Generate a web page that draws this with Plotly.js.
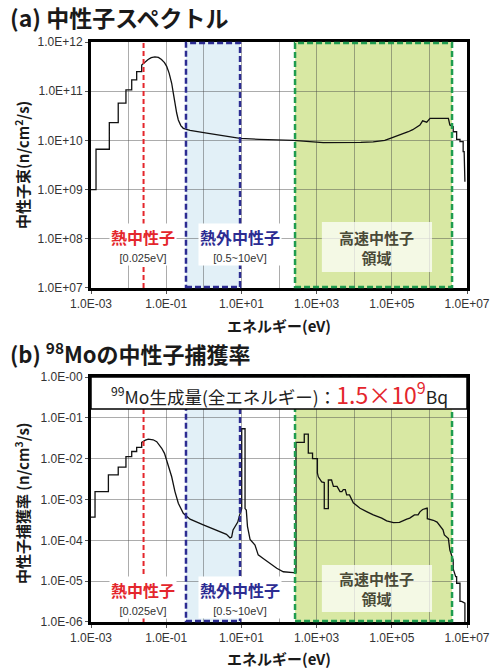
<!DOCTYPE html>
<html>
<head>
<meta charset="utf-8">
<script src="https://cdn.plot.ly/plotly-3.0.1.min.js"></script>
<style>
  html, body { margin: 0; padding: 0; background: #ffffff; }
  #chart { width: 497px; height: 668px; }
</style>
</head>
<body>
<div id="chart"></div>
<script>
// ---------- data ----------
// (a) neutron spectrum  [eV] -> [n/cm2/s]
const energyA = [1.0e-3, 1.36e-3, 1.36e-3, 3.07e-3, 3.07e-3, 5.3e-3, 5.3e-3, 8.5e-3, 8.5e-3, 0.0121, 0.0121, 0.0164, 0.0164, 0.0223, 0.0223,
  0.027, 0.033, 0.04, 0.05, 0.062, 0.075, 0.09, 0.103, 0.12, 0.14, 0.155, 0.171, 0.19, 0.21, 0.245, 0.285, 0.43, 1.2, 5.0, 9.2, 30, 240, 1500, 5000,
  1.5e4, 3.2e4, 4.9e4, 6.5e4, 9.1e4, 1.2e5, 1.65e5, 2.2e5, 2.75e5, 3.6e5, 4.6e5, 5.6e5, 6.6e5, 7.6e5, 8.5e5, 1.04e6, 1.56e6, 2.4e6, 3.2e6,
  3.5e6, 4.3e6, 4.3e6, 5.3e6, 5.3e6, 6.5e6, 6.5e6, 7.9e6, 7.9e6, 8.4e6, 8.8e6];
const fluxA = [1.0e9, 1.0e9, 6.6e9, 6.6e9, 2.3e10, 2.3e10, 5.7e10, 5.7e10, 1.06e11, 1.06e11, 1.7e11, 1.7e11, 2.5e11, 2.5e11, 3.4e11,
  3.9e11, 4.4e11, 4.8e11, 5.0e11, 4.85e11, 4.4e11, 3.8e11, 3.2e11, 2.3e11, 1.45e11, 9.0e10, 5.6e10, 3.6e10, 2.6e10, 2.0e10, 1.76e10, 1.6e10, 1.4e10, 1.2e10, 1.1e10, 1.05e10, 1.0e10, 9.0e9, 8.9e9,
  9.1e9, 9.3e9, 9.6e9, 1.0e10, 1.1e10, 1.18e10, 1.3e10, 1.38e10, 1.5e10, 1.65e10, 1.9e10, 2.05e10, 2.5e10, 2.45e10, 2.35e10, 2.8e10, 2.8e10, 2.85e10, 2.8e10,
  2.06e10, 1.9e10, 1.5e10, 1.5e10, 1.05e10, 1.05e10, 9.4e9, 9.4e9, 5.9e9, 5.9e9, 1.45e9];

// (b) 98Mo neutron capture rate  [eV] -> [n/cm3/s]
const energyB = [1.0e-3, 1.28e-3, 1.28e-3, 2.9e-3, 2.9e-3, 5.3e-3, 5.3e-3, 8.5e-3, 8.5e-3, 0.0121, 0.0121, 0.0164, 0.0164, 0.0223, 0.0223,
  0.028, 0.0334, 0.045, 0.056, 0.076, 0.09, 0.103, 0.12, 0.14, 0.171, 0.21, 0.285, 0.43, 0.97, 2.2, 4.0, 5.0, 5.5, 6.0, 7.0, 8.0, 9.0, 9.8,
  10.2, 10.2, 12.5, 12.5, 13.5, 14.5, 17, 23, 28, 38, 58, 87, 130, 218, 283, 283, 470, 470, 601, 601, 780, 780, 1050, 1050, 1110, 1365, 1600, 1600,
  2050, 2050, 2500, 2800, 3500, 4190, 4700, 5130, 5800, 6300, 7500, 9460, 1.2e4, 1.43e4, 2.2e4, 3.22e4, 5.4e4, 7.3e4, 1.1e5, 1.6e5, 2.5e5, 3.0e5,
  4.0e5, 5.0e5, 5.6e5, 6.6e5, 8.5e5, 8.8e5, 8.8e5, 1.27e6, 1.6e6, 1.9e6, 2.3e6, 2.5e6, 2.9e6, 3.2e6, 3.5e6, 4.3e6, 4.3e6, 5.0e6, 5.3e6, 5.3e6,
  6.5e6, 6.5e6, 7.2e6, 8.8e6, 8.8e6];
const rateB = [3.7e-4, 3.7e-4, 1.56e-3, 1.56e-3, 4.0e-3, 4.0e-3, 6.2e-3, 6.2e-3, 1.12e-2, 1.12e-2, 1.5e-2, 1.5e-2, 1.9e-2, 1.9e-2, 2.5e-2,
  2.85e-2, 3.0e-2, 2.9e-2, 2.6e-2, 1.8e-2, 1.35e-2, 9.3e-3, 5.8e-3, 3.6e-3, 1.56e-3, 8.1e-4, 4.6e-4, 3.3e-4, 2.4e-4, 1.8e-4, 1.4e-4, 1.15e-4, 1.2e-4, 1.8e-4, 2.4e-4, 2.8e-4, 4.2e-4, 6.0e-4,
  6.0e-4, 5.4e-2, 5.4e-2, 6.0e-4, 5.5e-4, 2.2e-4, 1.05e-4, 7.7e-5, 4.4e-5, 3.6e-5, 2.7e-5, 2.07e-5, 1.7e-5, 1.6e-5, 1.6e-5, 2.5e-2, 2.5e-2, 4.0e-2, 4.0e-2, 1.36e-2, 1.36e-2, 1.0e-2, 1.0e-2, 4.5e-3, 3.6e-3, 2.7e-3, 2.6e-3, 6.0e-4,
  6.0e-4, 3.0e-3, 3.0e-3, 2.1e-3, 2.1e-3, 1.56e-3, 1.56e-3, 1.75e-3, 1.75e-3, 1.3e-3, 1.3e-3, 8.3e-4, 7.0e-4, 6.1e-4, 5.0e-4, 4.2e-4, 3.5e-4, 3.0e-4, 2.7e-4, 2.75e-4, 3.3e-4, 3.5e-4,
  4.2e-4, 4.2e-4, 5.0e-4, 5.7e-4, 6.1e-4, 6.1e-4, 3.4e-4, 3.1e-4, 2.8e-4, 2.2e-4, 1.8e-4, 1.36e-4, 1.23e-4, 1.1e-4, 5.8e-5, 3.3e-5, 2.0e-5, 1.29e-5, 1.29e-5, 8.9e-6,
  8.9e-6, 3.2e-6, 3.2e-6, 2.9e-6, 1.0e-6];

// ticks
const xTickVals = [1e-3, 1e-1, 1e1, 1e3, 1e5, 1e7];
const xTickText = ['1.0E-03', '1.0E-01', '1.0E+01', '1.0E+03', '1.0E+05', '1.0E+07'];
const xMinorGridVals = [1e-2, 1e0, 1e2, 1e4, 1e6];
const yTickValsA = [1e7, 1e8, 1e9, 1e10, 1e11, 1e12];
const yTickTextA = ['1.0E+07', '1.0E+08', '1.0E+09', '1.0E+10', '1.0E+11', '1.0E+12'];
const yTickValsB = [1e-6, 1e-5, 1e-4, 1e-3, 1e-2, 1e-1, 1e0];
const yTickTextB = ['1.0E-06', '1.0E-05', '1.0E-04', '1.0E-03', '1.0E-02', '1.0E-01', '1.0E-00'];

// energy regions [eV]
const thermalEnergy = 0.025;
const epithermalRange = [0.336, 9.2];
const fastRange = [267, 4.0e6];

// ---------- styling ----------
const CJK = '"Noto Sans CJK JP", "Noto Sans", sans-serif';
const LAT = '"Liberation Sans", Arial, sans-serif';
const RED = '#e4262c';
const NAVY = '#2c2c92';
const GREEN = '#1f9c4f';
const GRID = 'rgba(70,70,70,0.45)';

function axisX(anchor) {
  return {
    type: 'log', range: [-3, 7], anchor: anchor, domain: [0, 1],
    tickmode: 'array', tickvals: xTickVals, ticktext: xTickText,
    showgrid: true, gridcolor: GRID, gridwidth: 1,
    minor: {tickmode: 'array', tickvals: xMinorGridVals, showgrid: true, gridcolor: GRID, gridwidth: 1, ticks: ''},
    showline: true, linecolor: '#000', linewidth: 3, mirror: true,
    ticks: 'outside', ticklen: 3, tickcolor: '#555',
    tickfont: {family: LAT, size: 12, color: '#333'}, zeroline: false
  };
}
function axisY(anchor, range, dom, vals, text) {
  return {
    type: 'log', range: range, anchor: anchor, domain: dom,
    tickmode: 'array', tickvals: vals, ticktext: text,
    showgrid: true, gridcolor: GRID, gridwidth: 1,
    showline: true, linecolor: '#000', linewidth: 3, mirror: true,
    ticks: 'outside', ticklen: 3, tickcolor: '#555',
    tickfont: {family: LAT, size: 12, color: '#333'}, zeroline: false
  };
}

const traces = [
  {x: energyA, y: fluxA, xaxis: 'x', yaxis: 'y', type: 'scatter', mode: 'lines',
   line: {color: '#111', width: 1.3}, hoverinfo: 'skip'},
  {x: energyB, y: rateB, xaxis: 'x2', yaxis: 'y2', type: 'scatter', mode: 'lines',
   line: {color: '#111', width: 1.3}, hoverinfo: 'skip'}
];

function regionShapes(xr, yr) {
  const yd = yr + ' domain';
  return [
    {type: 'rect', xref: xr, yref: yd, x0: epithermalRange[0], x1: epithermalRange[1], y0: 0, y1: 1,
     fillcolor: '#e2f0f7', line: {width: 0}, layer: 'below'},
    {type: 'rect', xref: xr, yref: yd, x0: fastRange[0], x1: fastRange[1], y0: 0, y1: 1,
     fillcolor: '#d8e8a3', line: {width: 0}, layer: 'below'},
    {type: 'line', xref: xr, yref: yd, x0: thermalEnergy, x1: thermalEnergy, y0: 0, y1: 1,
     line: {color: RED, width: 2, dash: '5px,3px'}, layer: 'above'},
    {type: 'rect', xref: xr, yref: yd, x0: epithermalRange[0], x1: epithermalRange[1], y0: 0.004, y1: 0.996,
     line: {color: NAVY, width: 2.5, dash: '6px,3px'}, layer: 'above'},
    {type: 'rect', xref: xr, yref: yd, x0: fastRange[0], x1: fastRange[1], y0: 0.004, y1: 0.996,
     line: {color: GREEN, width: 2.5, dash: '6px,3px'}, layer: 'above'}
  ];
}

const shapes = [].concat(
  regionShapes('x', 'y'),
  regionShapes('x2', 'y2'),
  [
    // white glow behind fast-neutron labels
    {type: 'rect', xref: 'x domain', yref: 'y domain', x0: 0.614, x1: 0.907, y0: 0.065, y1: 0.268,
     fillcolor: 'rgba(255,255,255,0.72)', line: {width: 0}, layer: 'above'},
    {type: 'rect', xref: 'x2 domain', yref: 'y2 domain', x0: 0.614, x1: 0.907, y0: 0.041, y1: 0.233,
     fillcolor: 'rgba(255,255,255,0.72)', line: {width: 0}, layer: 'above'},
    // info box in (b)
    {type: 'rect', xref: 'x2 domain', yref: 'y2 domain', x0: 0, x1: 1, y0: 0.869, y1: 1,
     fillcolor: '#ffffff', line: {color: '#000', width: 1.5}, layer: 'above'}
  ]
);

function regionLabels(xr, yr, yLab, yFast) {
  const xd = xr + ' domain', yd = yr + ' domain';
  const base = {xref: xd, yref: yd, showarrow: false, xanchor: 'center', yanchor: 'middle'};
  const sub = (s) => '<span style="font-size:11px;font-family:Liberation Sans, Arial, sans-serif;color:#333">' + s + '</span>';
  return [
    Object.assign({}, base, {x: 0.1396, y: yLab, bgcolor: '#ffffff', borderpad: 1,
      text: '<b><span style="font-size:16px;color:' + RED + '">熱中性子</span></b><br>' + sub('[0.025eV]'),
      font: {family: CJK, size: 14, color: RED}}),
    Object.assign({}, base, {x: 0.396, y: yLab, bgcolor: '#ffffff', borderpad: 1,
      text: '<b><span style="font-size:16px;color:' + NAVY + '">熱外中性子</span></b><br>' + sub('[0.5~10eV]'),
      font: {family: CJK, size: 14, color: NAVY}}),
    Object.assign({}, base, {x: 0.7606, y: yFast, text: '<b>高速中性子<br>領域</b>',
      font: {family: CJK, size: 15, color: '#4a4a38'}})
  ];
}

const annotations = [].concat(
  regionLabels('x', 'y', 0.175, 0.1626),
  regionLabels('x2', 'y2', 0.098, 0.1347),
  [
    // panel titles
    {xref: 'paper', yref: 'paper', x: -0.2207, y: 1.0431, xanchor: 'left', yanchor: 'middle', showarrow: false,
     text: '(a) 中性子スペクトル', font: {family: CJK, size: 23, color: '#1a1a1a', weight: 'bold'}},
    {xref: 'paper', yref: 'paper', x: -0.2207, y: 0.4638, xanchor: 'left', yanchor: 'middle', showarrow: false,
     text: '(b) <sup>98</sup>Moの中性子捕獲率', font: {family: CJK, size: 22, color: '#1a1a1a', weight: 'bold'}},
    // axis titles
    {xref: 'paper', yref: 'paper', x: 0.5, y: 0.511, xanchor: 'center', yanchor: 'middle', showarrow: false,
     text: 'エネルギー(eV)', font: {family: CJK, size: 15, color: '#1a1a1a', weight: 'bold'}},
    {xref: 'paper', yref: 'paper', x: 0.5, y: -0.0625, xanchor: 'center', yanchor: 'middle', showarrow: false,
     text: 'エネルギー(eV)', font: {family: CJK, size: 15, color: '#1a1a1a', weight: 'bold'}},
    {xref: 'paper', yref: 'paper', x: 0, xshift: -69, y: 0.788, xanchor: 'center', yanchor: 'middle', showarrow: false,
     textangle: -90, text: '中性子束(n/cm<sup>2</sup>/s)', font: {family: CJK, size: 15, color: '#1a1a1a', weight: 'bold'}},
    {xref: 'paper', yref: 'paper', x: 0, xshift: -69, y: 0.205, xanchor: 'center', yanchor: 'middle', showarrow: false,
     textangle: -90, text: '中性子捕獲率 (n/cm<sup>3</sup>/s)', font: {family: CJK, size: 15, color: '#1a1a1a', weight: 'bold'}},
    // info box text
    {xref: 'x2 domain', yref: 'y2 domain', x: 0.5, y: 0.934, xanchor: 'center', yanchor: 'middle', showarrow: false,
     text: '<sup>99</sup>Mo生成量(全エネルギー)：<span style="color:' + RED + ';font-size:23px">1.5×10<sup>9</sup></span>Bq',
     font: {family: CJK, size: 17.5, color: '#222'}}
  ]
);

const layout = {
  width: 497, height: 668,
  margin: {l: 91, r: 30, t: 42, b: 46},
  paper_bgcolor: '#ffffff', plot_bgcolor: '#ffffff',
  showlegend: false,
  xaxis: axisX('y'),
  yaxis: axisY('x', [7, 12], [0.5759, 1], yTickValsA, yTickTextA),
  xaxis2: axisX('y2'),
  yaxis2: axisY('x2', [-6, 0], [0, 0.4224], yTickValsB, yTickTextB),
  shapes: shapes,
  annotations: annotations
};

Plotly.newPlot('chart', traces, layout, {displayModeBar: false, staticPlot: true});
</script>
</body>
</html>
